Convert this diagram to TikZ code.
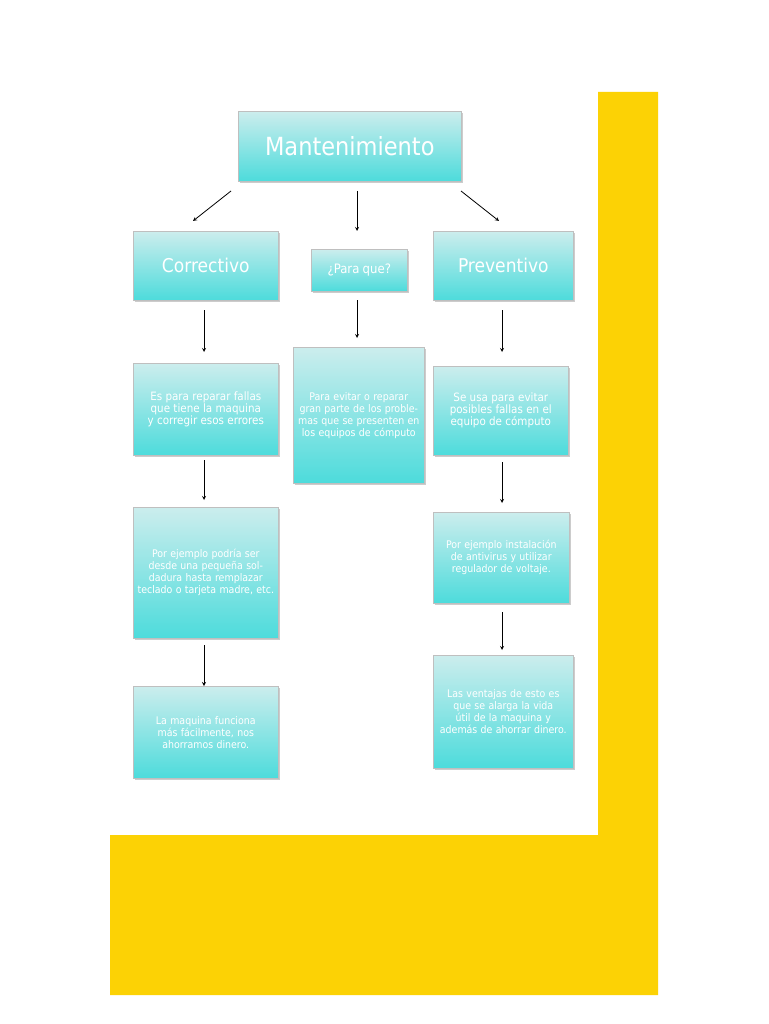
\documentclass[tikz,border=0pt]{standalone}
\usepackage{fontspec}
\setmainfont{DejaVu Sans Condensed}
\usetikzlibrary{shadows}
\begin{document}
\begin{tikzpicture}[x=1pt,y=-1pt,
 bx/.style={draw=black!25,line width=0.6pt,top color=cyan!30!teal!20!white!100,bottom color=cyan!60!teal!70,
   text=white,align=center,inner sep=2pt,anchor=north west,
   drop shadow={shadow xshift=1.5pt,shadow yshift=-1.5pt,opacity=0.4}},
 ar/.style={-stealth,thick}]
\useasboundingbox (0,0) rectangle (768,1024);
\fill[white] (0,0) rectangle (768,1024);
\fill[yellow!70!orange] (598,92) -- (658,92) -- (658,995) -- (110,995) -- (110,835) -- (598,835) -- cycle;
\def\B#1#2#3#4#5#6{\node[bx,minimum width=#4-#2,minimum height=#5-#3,text width=#4-#2-8] (#1) at (#2,#3) {#6};}
\B{m}{238}{111}{461}{181}{\fontsize{25}{28}\selectfont Mantenimiento}
\B{c}{133}{231}{278}{300}{\fontsize{19}{22}\selectfont Correctivo}
\B{q}{311}{249}{407}{291}{\fontsize{13}{16}\selectfont ¿Para que?}
\B{p}{433}{231}{573}{300}{\fontsize{19}{22}\selectfont Preventivo}
\B{c1}{133}{363}{278}{455}{\fontsize{11.5}{20}\selectfont Es para reparar fallas que tiene la maquina y corregir esos errores}
\B{q1}{293}{347}{424}{483}{\fontsize{10.5}{20}\selectfont Para evitar o reparar gran parte de los problemas que se presenten en los equipos de cómputo}
\B{p1}{433}{366}{568}{455}{\fontsize{11.5}{20}\selectfont Se usa para evitar posibles fallas en el equipo de cómputo}
\B{c2}{133}{507}{278}{638}{\fontsize{10.5}{22}\selectfont Por ejemplo podría ser desde una pequeña soldadura hasta remplazar teclado o tarjeta madre, etc.}
\B{p2}{433}{512}{569}{603}{\fontsize{10.5}{20}\selectfont Por ejemplo instalación de antivirus y utilizar regulador de voltaje.}
\B{c3}{133}{686}{278}{778}{\fontsize{10.5}{20}\selectfont La maquina funciona más fácilmente, nos ahorramos dinero.}
\B{p3}{433}{655}{573}{768}{\fontsize{10.5}{20}\selectfont Las ventajas de esto es que se alarga la vida útil de la maquina y además de ahorrar dinero.}
\coordinate (a1) at (231,191); \coordinate (a1e) at (193,221);
\coordinate (a2) at (357,191); \coordinate (a2e) at (357,231);
\coordinate (a3) at (461,191); \coordinate (a3e) at (499,221);
\draw[ar] (a1) -- (a1e); \draw[ar] (a2) -- (a2e); \draw[ar] (a3) -- (a3e);
\draw[ar] (204,310) -- (204,352);
\draw[ar] (357,300) -- (357,338);
\draw[ar] (502,310) -- (502,352);
\draw[ar] (204,460) -- (204,500);
\draw[ar] (502,462) -- (502,503);
\draw[ar] (204,645) -- (204,686);
\draw[ar] (502,612) -- (502,650);
\end{tikzpicture}
\end{document}
